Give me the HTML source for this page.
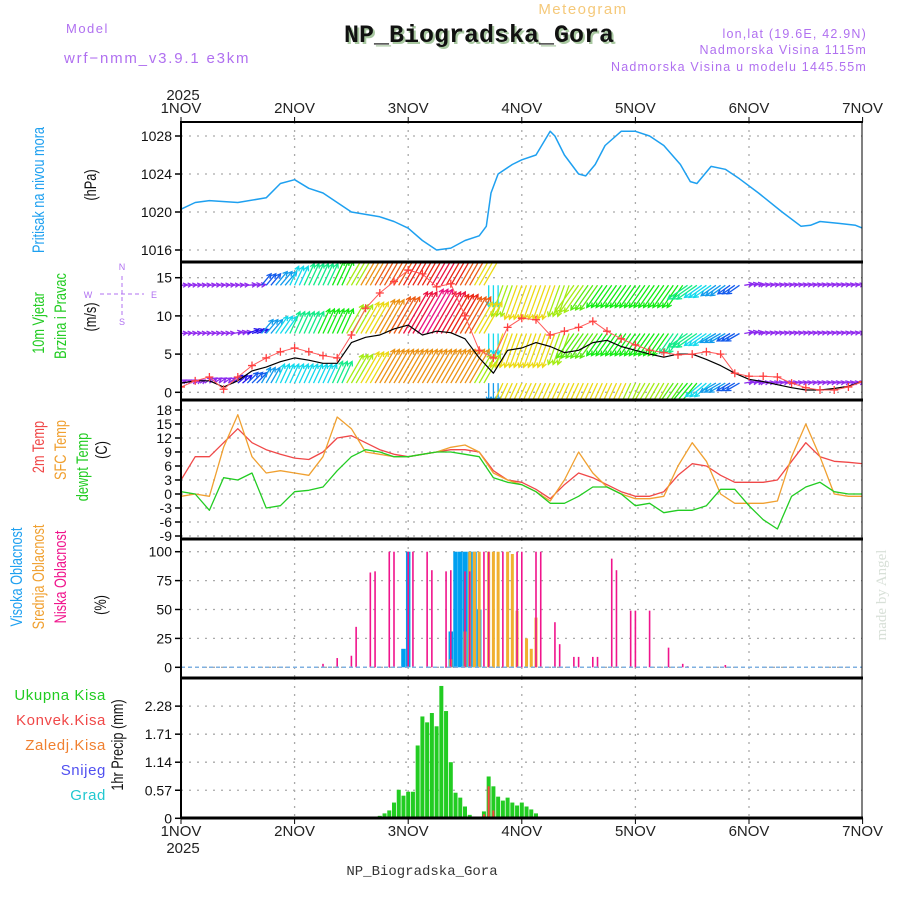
<!DOCTYPE html>
<html><head><meta charset="utf-8"><style>
body{margin:0;background:#fff;}
svg{display:block;font-family:"Liberation Sans",sans-serif;}
</style></head><body>
<svg id="chart" width="900" height="900" viewBox="0 0 900 900">
<rect x="0" y="0" width="900" height="900" fill="#fff"/>
<text x="66" y="33" font-size="13" fill="#b070f0" letter-spacing="1.5">Model</text>
<text x="64" y="63" font-size="15" fill="#b070f0" letter-spacing="1.8">wrf−nmm_v3.9.1 e3km</text>
<text x="583" y="14" font-size="15" fill="#f5c97a" text-anchor="middle" letter-spacing="1.5">Meteogram</text>
<text x="481" y="44" font-size="25" font-weight="bold" font-family="Liberation Mono, monospace" fill="#a8c8a0" text-anchor="middle">NP_Biogradska_Gora</text>
<text x="479" y="42" font-size="25" font-weight="bold" font-family="Liberation Mono, monospace" fill="#111" text-anchor="middle">NP_Biogradska_Gora</text>
<text x="867" y="38" font-size="12.5" fill="#b070f0" text-anchor="end" letter-spacing="1.2">lon,lat (19.6E, 42.9N)</text>
<text x="867" y="54" font-size="12.5" fill="#b070f0" text-anchor="end" letter-spacing="1.2">Nadmorska Visina 1115m</text>
<text x="867" y="71" font-size="12.5" fill="#b070f0" text-anchor="end" letter-spacing="1.2">Nadmorska Visina u modelu 1445.55m</text>
<text x="183" y="100" font-size="15" fill="#222" text-anchor="middle">2025</text>
<text x="183" y="853" font-size="15" fill="#222" text-anchor="middle">2025</text>
<text x="422" y="875" font-size="14" font-family="Liberation Mono, monospace" fill="#333" text-anchor="middle">NP_Biogradska_Gora</text>
<text transform="translate(886,595) rotate(-90)" font-size="15" font-family="Liberation Serif, serif" fill="#d8e0d8" text-anchor="middle">made by Angel</text>

<g font-size="17" text-anchor="middle">
<text transform="translate(44,190) rotate(-90) scale(0.75,1)" fill="#1ea0f0">Pritisak na nivou mora</text>
<text transform="translate(96,185) rotate(-90) scale(0.75,1)" fill="#111">(hPa)</text>
<text transform="translate(44,323) rotate(-90) scale(0.75,1)" fill="#22cc22">10m Vjetar</text>
<text transform="translate(66,316) rotate(-90) scale(0.75,1)" fill="#22cc22">Brzina i Pravac</text>
<text transform="translate(96,317) rotate(-90) scale(0.75,1)" fill="#111">(m/s)</text>
<text transform="translate(44,447) rotate(-90) scale(0.75,1)" fill="#f04848">2m Temp</text>
<text transform="translate(66,450) rotate(-90) scale(0.75,1)" fill="#f0a030">SFC Temp</text>
<text transform="translate(88,467) rotate(-90) scale(0.75,1)" fill="#22cc22">dewpt Temp</text>
<text transform="translate(107,450) rotate(-90) scale(0.75,1)" fill="#111">(C)</text>
<text transform="translate(22,577) rotate(-90) scale(0.75,1)" fill="#1ea0f0">Visoka Oblacnost</text>
<text transform="translate(44,577) rotate(-90) scale(0.75,1)" fill="#f0a030">Srednja Oblacnost</text>
<text transform="translate(66,577) rotate(-90) scale(0.75,1)" fill="#f0148c">Niska Oblacnost</text>
<text transform="translate(106,605) rotate(-90) scale(0.75,1)" fill="#111">(%)</text>
<text transform="translate(123,745) rotate(-90) scale(0.75,1)" fill="#111">1hr Precip (mm)</text>
</g>
<g font-size="15" text-anchor="end" letter-spacing="0.6">
<text x="106" y="700" fill="#22cc22">Ukupna Kisa</text>
<text x="106" y="725" fill="#f04848">Konvek.Kisa</text>
<text x="106" y="750" fill="#f08030">Zaledj.Kisa</text>
<text x="106" y="775" fill="#5050f0">Snijeg</text>
<text x="106" y="800" fill="#20c8d0">Grad</text>
</g>
<g fill="#b070f0" stroke="#b070f0" font-size="9">
<text x="122" y="270" text-anchor="middle" stroke="none">N</text>
<text x="88" y="298" text-anchor="middle" stroke="none">W</text>
<text x="154" y="298" text-anchor="middle" stroke="none">E</text>
<text x="122" y="325" text-anchor="middle" stroke="none">S</text>
<line x1="122" y1="276" x2="122" y2="318" stroke-width="1" stroke-dasharray="4,3"/>
<line x1="100" y1="294" x2="144" y2="294" stroke-width="1" stroke-dasharray="4,3"/>
</g>
<g id="plot"></g>
</svg>
<script>
// ---- data (hours from 1 NOV 00 UTC) ----
const dayLabels = ["1NOV","2NOV","3NOV","4NOV","5NOV","6NOV","7NOV"];
const pressHours = [0,3,6,12,18,21,24,27,30,36,42,45,48,51,54,57,60,63,64.5,65.5,67,70,72,75,78,79,81,84,85.5,87.5,89.6,93,96,99,102,105.5,107.6,109,112,115,118,122,127,131,133,135,139,142.5,144];
const pressVals = [1020.3,1021,1021.2,1021,1021.5,1023,1023.4,1022.5,1022,1020,1019.5,1019,1018.3,1017,1016,1016.2,1017,1017.5,1018.5,1022,1024,1025,1025.5,1026,1028.5,1028,1026,1024,1023.8,1025,1027,1028.5,1028.5,1028,1027,1025,1023.2,1023,1024.8,1024.5,1023.5,1022,1020,1018.5,1018.6,1019,1018.8,1018.6,1018.3];
const pressTicks = [1016,1020,1024,1028];
const windTicks = [0,5,10,15];
const tempTicks = [-9,-6,-3,0,3,6,9,12,15,18];
const cloudTicks = [0,25,50,75,100];
const precipTicks = [0,0.57,1.14,1.71,2.28];
// 3-hourly series (0..144h)
const gustVals = [0.7,1.5,2,0.4,2,3.5,4.5,5.3,5.8,5.3,4.8,4.5,7.5,11,13,14.5,16,15.5,13.8,14.2,10,5.5,4.5,8.5,9.7,9.5,7.5,8,8.5,9.3,8,7,6.2,5.5,5.2,4.9,5,5.3,5,2.5,2.1,2.1,2,1.2,0.6,0.3,0.3,0.7,1.4];
const speedVals = [1.2,1.5,1.5,0.7,1.5,2.8,3.3,4,4.5,4.2,3.8,3.8,6.5,7.2,7.5,8.3,8.8,7.5,8,7.8,7,4.5,2.5,5.5,5.8,6.5,6,5.2,5.5,6.5,6.8,6,5.5,5,4.6,5,5,4.3,3.5,2.5,1.7,1.4,1,0.6,0.3,0.3,0.5,0.8,1.4];
const row1Speed = [2,2,2,2,2,3,5,6,7,8,8,9,11,13,14,14,15,15,16,15,14,12,7,11,12,12,12,11,11,10,9,9,9,9,9,9,8,7,6,5,3,2,2,2,2,2,2,2,2];
const row2Speed = [2,2,2,2,3,4,6,7,8,8,9,9,11,12,13,14,16,17,16,15,14,12,7,12,12,12,12,11,10,10,9,9,9,9,9,8,8,7,6,5,3,2,2,2,2,2,2,2,2];
const row3Speed = [2,2,3,3,4,5,6,7,7,7,7,8,11,12,13,13,13,13,13,13,13,11,6,12,12,12,12,12,12,12,12,12,11,11,11,10,9,7,6,5,3,2,2,2,2,2,2,2,2];
const row1Dir = [265,265,265,265,265,265,220,220,205,205,205,205,210,210,210,210,210,210,210,210,210,210,0,20,20,20,20,20,35,35,35,35,35,35,35,35,55,55,55,55,260,260,260,260,260,260,260,260,260];
const row2Dir = [265,265,265,265,260,250,220,215,205,205,205,205,210,210,210,210,210,210,210,210,210,210,0,20,20,20,20,20,35,35,35,35,35,35,35,35,55,55,60,60,260,260,260,260,260,260,260,260,260];
const row3Dir = [240,240,235,235,230,225,210,205,205,205,205,205,210,210,210,210,210,210,210,210,210,210,0,25,25,25,25,25,25,25,25,25,25,30,30,35,40,50,60,60,260,260,260,260,260,260,260,260,260];
const t2mVals = [3,8,8,11,14,11,9.5,8.5,7.7,7.4,9,12,12.5,11,9.5,8.5,8,8.5,9,9.5,9.5,9,5,3,2.5,1,-1,2,4.5,3.5,2,0.5,-0.5,-0.5,0.5,4,6.5,6,4,2.5,2.5,2.5,3,7,11,8,7,6.8,6.5];
const sfcVals = [-0.5,0,-0.5,10,17,8,4.5,5,4.5,4,8,16.5,14,9,8.5,8,8,8.5,9,10,10.5,9,4.5,3,2,0.5,-1.5,3,9,4.5,1.5,0,-1,-1,-0.5,6,11,7,0,-2,-2,-2,-1.5,8,15,8,0,-0.5,-0.5];
const dewVals = [0.5,0,-3.5,3.5,3,4.5,-3,-2.5,0.5,0.8,1.5,5,8,9.5,9,8,8,8.5,9,9,8.5,8,3.5,2.5,2,0.5,-2,-2,-0.5,1.5,1.5,0,-2.5,-2,-4,-3.5,-3.5,-2.5,1,1,-2.5,-5.5,-7.5,-0.5,1.5,2.5,0.5,0,0];
const lowHours = [30,33,36,37,40,41,44,45,48,49,52,53,56,57,60,61,64,65,68,71,72,75,76,79,80,83,84,87,88,91,92,95,96,99,103,106,107,115];
const lowVals = [3,8,10,35,82,83,100,100,100,100,100,84,83,84,83,83,100,100,100,100,100,100,100,39,20,9,9,9,9,94,84,49,49,49,17,3,1,2];
const midHours = [57,60,61,62,63,65,66,67,69,70,71,73,74,75];
const midVals = [7,31,100,100,100,100,100,100,100,98,49,25,16,43];
const highHours = [47,48,57,58,59,60,61,62,63];
const highVals = [16,100,31,100,100,100,100,100,50];
const precipHours = [41,42,43,44,45,46,47,48,49,50,51,52,53,54,55,56,57,58,59,60,61,62,63,64,65,66,67,68,69,70,71,72,73,74,75,76];
const precipTotal = [0.02,0.05,0.1,0.16,0.32,0.58,0.46,0.54,0.54,1.48,2.07,1.95,2.14,1.87,2.69,2.18,1.14,0.52,0.42,0.24,0.07,0,0,0.14,0.85,0.65,0.44,0.36,0.42,0.32,0.26,0.32,0.24,0.18,0.1,0.02];
const convHours = [64,65,66,74];
const convVals = [0.08,0.65,0.16,0.02];

// ---- axes ----
const NS="http://www.w3.org/2000/svg";
const plot=document.getElementById('plot');
const X0=181, PXH=113.6/24, XR=862;
const X=h=>X0+h*PXH;
const panels={
 press:{top:122,bot:262,y:v=>136+(1028-v)*9.5},
 wind:{top:262,bot:400,y:v=>392.3-v*7.64},
 temp:{top:400,bot:539,y:v=>494-v*4.667},
 cloud:{top:539,bot:678,y:v=>667.3-v*1.156},
 precip:{top:678,bot:818,y:v=>818.3-v*49.2}
};
function el(tag,attrs,parent){const e=document.createElementNS(NS,tag);for(const k in attrs)e.setAttribute(k,attrs[k]);(parent||plot).appendChild(e);return e;}

const defs=el('defs',{});
for(const k in panels){const p=panels[k];const cp=el('clipPath',{id:'clip-'+k},defs);el('rect',{x:X0,y:p.top,width:XR-X0,height:p.bot-p.top},cp);}

function gridAndTicks(key,ticks,fmt){
 const p=panels[key];
 ticks.forEach(t=>{
  const y=p.y(t);
  const g=el('line',{x1:X0,x2:XR,y1:y,y2:y,stroke:'#aaa','stroke-width':1.3,'stroke-dasharray':'2,6'});
  
  
  const tk=el('line',{x1:X0-6,x2:X0,y1:y,y2:y,stroke:'#000','stroke-width':1.5});
  
  
  const tx=el('text',{x:X0-9,y:y+5,'font-size':14,'text-anchor':'end',fill:'#111'});
  tx.textContent=fmt?fmt(t):String(t);
  
  
 });
 for(let d=1;d<6;d++){
  const x=X(d*24);
  const v=el('line',{x1:x,x2:x,y1:p.top,y2:p.bot,stroke:'#aaa','stroke-width':1.3,'stroke-dasharray':'2,6'});
  
  
 }
}
gridAndTicks('press',pressTicks);
gridAndTicks('wind',windTicks);
gridAndTicks('temp',tempTicks);
gridAndTicks('cloud',cloudTicks);
gridAndTicks('precip',precipTicks,t=>t===0?'0':t.toFixed(2));

dayLabels.forEach((lab,i)=>{
 const x=X(i*24);
 const a=el('text',{x:x,y:113,'font-size':15,'text-anchor':'middle',fill:'#222'});a.textContent=lab;
 
 
 const b=el('text',{x:x,y:836,'font-size':15,'text-anchor':'middle',fill:'#222'});b.textContent=lab;
 
 
 const t1=el('line',{x1:x,x2:x,y1:117,y2:122,stroke:'#000'});
 
 
 const t2=el('line',{x1:x,x2:x,y1:818,y2:824,stroke:'#000'});
 
 
});

function polyline(key,hours,vals,color,w,name){
 const p=panels[key];
 const pts=hours.map((h,i)=>X(h).toFixed(1)+','+p.y(vals[i]).toFixed(1)).join(' ');
 const l=el('polyline',{points:pts,fill:'none',stroke:color,'stroke-width':w,'clip-path':'url(#clip-'+key+')','stroke-linejoin':'round'});
 
 
 return l;
}
const h3=gustVals.map((_,i)=>i*3);

polyline('press',pressHours,pressVals,'#1ea0f0',1.5,'pressure-line');

function speedColor(s){
 const stops=[[0,275],[3,270],[5,220],[7,185],[9,120],[11,80],[12,55],[13,35],[15,5],[17,-30]];
 let hue=stops[stops.length-1][1];
 for(let i=0;i<stops.length-1;i++){if(s>=stops[i][0]&&s<=stops[i+1][0]){const f=(s-stops[i][0])/(stops[i+1][0]-stops[i][0]);hue=stops[i][1]+f*(stops[i+1][1]-stops[i][1]);break;}}
 return 'hsl('+((hue+360)%360)+',85%,'+(hue>250?'55%':'50%')+')';
}
const windG=el('g',{'clip-path':'url(#clip-wind)'});


function arrowRow(base,speeds,dirs,name){
 const yb=panels.wind.y(base);
 speeds.forEach((s,i)=>{
  const rad=(dirs[i]+180)*Math.PI/180;
  const L=s*3;
  const dx=Math.sin(rad)*L, dy=-Math.cos(rad)*L;
  const col=speedColor(s);
  [-1,0,1].forEach(o=>{
   const x=X(i*3+o);
   if(x<X0||x>XR) return;
   const tx=x+dx, ty=yb+dy;
   const ang=Math.atan2(dy,dx);
   const hl=Math.min(5,L*0.5+1.5);
   const d='M'+x.toFixed(1)+','+yb.toFixed(1)+'L'+tx.toFixed(1)+','+ty.toFixed(1)+
    'M'+(tx-hl*Math.cos(ang-0.5)).toFixed(1)+','+(ty-hl*Math.sin(ang-0.5)).toFixed(1)+'L'+tx.toFixed(1)+','+ty.toFixed(1)+
    'L'+(tx-hl*Math.cos(ang+0.5)).toFixed(1)+','+(ty-hl*Math.sin(ang+0.5)).toFixed(1);
   const a=el('path',{d:d,stroke:col,'stroke-width':1.3,fill:'none'},windG);
   
   
  });
 });
}
arrowRow(14,row1Speed,row1Dir,'wind-arrow-row1');
arrowRow(7.7,row2Speed,row2Dir,'wind-arrow-row2');
arrowRow(1.2,row3Speed,row3Dir,'wind-arrow-row3');
polyline('wind',h3,speedVals,'#000',1.2,'wind-speed-line');
polyline('wind',h3,gustVals,'#ff5a5a',1,'wind-gust-line');
h3.forEach((h,i)=>{
 const x=X(h),y=panels.wind.y(gustVals[i]);
 const m=el('path',{d:'M'+(x-4)+','+y+'h8M'+x+','+(y-4)+'v8',stroke:'#ff4040','stroke-width':1.3,'clip-path':'url(#clip-wind)'});
 
 
});

polyline('temp',h3,t2mVals,'#f04848',1.3,'temp-2m-line');
polyline('temp',h3,sfcVals,'#f0a030',1.3,'temp-sfc-line');
polyline('temp',h3,dewVals,'#22cc22',1.3,'dewpoint-line');

const cp=panels.cloud;
function cloudBars(hours,vals,color,w,name){
 hours.forEach((h,i)=>{
  const x=X(h),y=cp.y(vals[i]);
  const r=el('rect',{x:x-w/2,y:y,width:w,height:cp.y(0)-y,fill:color});
  
  
 });
}
cloudBars(highHours,highVals,'#00a0f0',4.5,'high-cloud-bar');
cloudBars(midHours,midVals,'#f0b030',3,'mid-cloud-bar');
cloudBars(lowHours,lowVals,'#f0148c',1.6,'low-cloud-bar');
const cb=el('line',{x1:X0,x2:XR,y1:cp.y(0),y2:cp.y(0),stroke:'#7fb0e0','stroke-width':1.5,'stroke-dasharray':'4,3'});



const pp=panels.precip;
precipHours.forEach((h,i)=>{
 if(precipTotal[i]<=0) return;
 const y=pp.y(precipTotal[i]);
 const r=el('rect',{x:X(h)-2,y:y,width:4,height:pp.y(0)-y,fill:'#22cc22'});
 
 
});
convHours.forEach((h,i)=>{
 const y=pp.y(convVals[i]);
 const r=el('rect',{x:X(h)-1,y:y,width:2,height:pp.y(0)-y,fill:'#ff4040'});
 
 
});

['press','wind','temp','cloud','precip'].forEach(k=>{
 const p=panels[k];
 const f=el('rect',{x:X0,y:p.top,width:XR-X0,height:p.bot-p.top,fill:'none',stroke:'#000','stroke-width':1});
 
 
 const t=el('line',{x1:X0,x2:XR+1,y1:p.top,y2:p.top,stroke:'#000','stroke-width':k==='press'?2:3});
 
 
});
const bl=el('line',{x1:X0,x2:XR+1,y1:818,y2:818,stroke:'#000','stroke-width':3});


const la=el('line',{x1:X0,x2:X0,y1:121,y2:819,stroke:'#000','stroke-width':2});


</script>
</body></html>
